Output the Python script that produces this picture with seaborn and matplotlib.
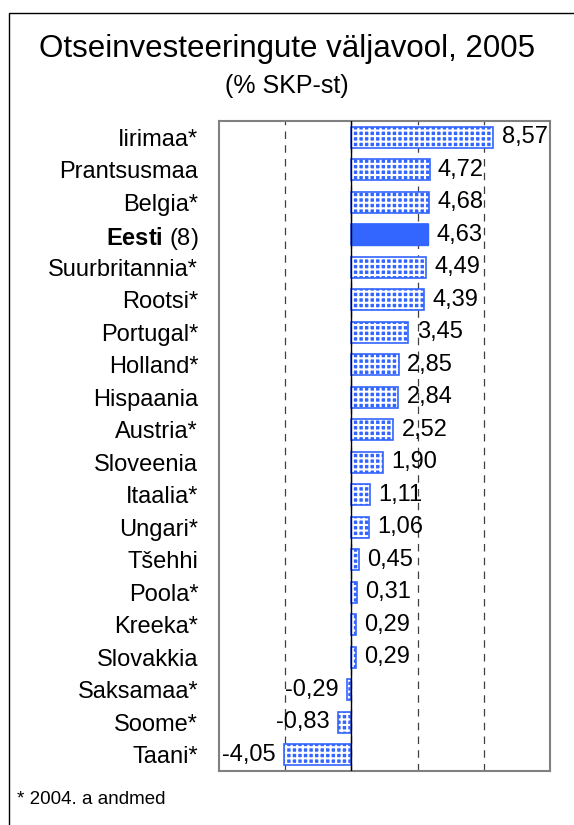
import matplotlib
matplotlib.use("Agg")
import matplotlib.pyplot as plt
import seaborn as sns
from matplotlib.patches import Rectangle

# andmed
countries = ["Iirimaa*", "Prantsusmaa", "Belgia*", "Eesti", "Suurbritannia*",
             "Rootsi*", "Portugal*", "Holland*", "Hispaania", "Austria*",
             "Sloveenia", "Itaalia*", "Ungari*", "Tšehhi", "Poola*",
             "Kreeka*", "Slovakkia", "Saksamaa*", "Soome*", "Taani*"]
values = [8.57, 4.72, 4.68, 4.63, 4.49, 4.39, 3.45, 2.85, 2.84, 2.52,
          1.90, 1.11, 1.06, 0.45, 0.31, 0.29, 0.29, -0.29, -0.83, -4.05]
highlight = "Eesti"
highlight_note = "(8)"
grid_ticks = [-4, 0, 4, 8]

blue = "#3366FF"

sns.set_style("white")
plt.rcParams['font.family'] = ['Liberation Sans', 'DejaVu Sans']
plt.rcParams['text.color'] = 'black'
plt.rcParams['ytick.color'] = 'black'
plt.rcParams['ytick.labelcolor'] = 'black'
plt.rcParams['mathtext.fontset'] = 'custom'
plt.rcParams['mathtext.rm'] = 'Liberation Sans'
plt.rcParams['mathtext.bf'] = 'Liberation Sans:bold'
plt.rcParams['hatch.linewidth'] = 1.5

fig = plt.figure(figsize=(5.74, 8.25), dpi=100)
ax = fig.add_axes([219 / 574, 54 / 825, 331 / 574, 650 / 825])

# mustriga tulbad
sns.barplot(x=values, y=countries, orient="h", width=0.65, color=blue,
            saturation=1, ax=ax, zorder=2)
for name, p in zip(countries, ax.patches):
    if name == highlight:
        p.set_facecolor(blue)
        p.set_edgecolor(blue)
        p.set_linewidth(1)
    else:
        p.set_facecolor(blue)
        p.set_edgecolor("white")
        p.set_hatch("+++")
        p.set_linewidth(0)
labels = [f"{v:.2f}".replace(".", ",") for v in values]
ax.bar_label(ax.containers[0], labels=labels, padding=6, fontsize=17,
             color="black", zorder=4)

# tulpade servad
sns.barplot(x=values, y=countries, orient="h", width=0.65, color=blue,
            fill=False, linewidth=1.2, ax=ax, zorder=3)

ax.set_xlim(-8, 12)
ax.set_xticks(grid_ticks)
ax.set_xticklabels([])
ax.tick_params(axis="both", length=0)
ax.tick_params(axis="y", pad=15, labelsize=17)
ax.grid(axis="x", color="#404040", linestyle=(0, (6, 5)), linewidth=0.9, zorder=0)
ax.set_axisbelow(True)
ax.axvline(0, color="black", linewidth=1, zorder=3)
ax.set_xlabel("")
ax.set_ylabel("")

ticklabels = [rf"$\mathbf{{{c}}}$ {highlight_note}" if c == highlight else c
              for c in countries]
ax.set_yticks(range(len(countries)))
ax.set_yticklabels(ticklabels)

for s in ax.spines.values():
    s.set_visible(True)
    s.set_color("#808080")
    s.set_linewidth(1.5)

fig.text(0.5, 1 - 49 / 825, "Otseinvesteeringute väljavool, 2005",
         ha="center", va="center", fontsize=22.5)
fig.text(0.5, 1 - 86 / 825, "(% SKP-st)", ha="center", va="center", fontsize=18)
fig.text(17 / 574, 1 - 800 / 825, "* 2004. a andmed", ha="left", va="center",
         fontsize=13.5)

fig.patches.append(Rectangle((9 / 574, -0.1), 1.2, 1 - 13 / 825 + 0.1,
                             transform=fig.transFigure, fill=False,
                             edgecolor="black", linewidth=1))

fig.savefig("out.png", dpi=100)
